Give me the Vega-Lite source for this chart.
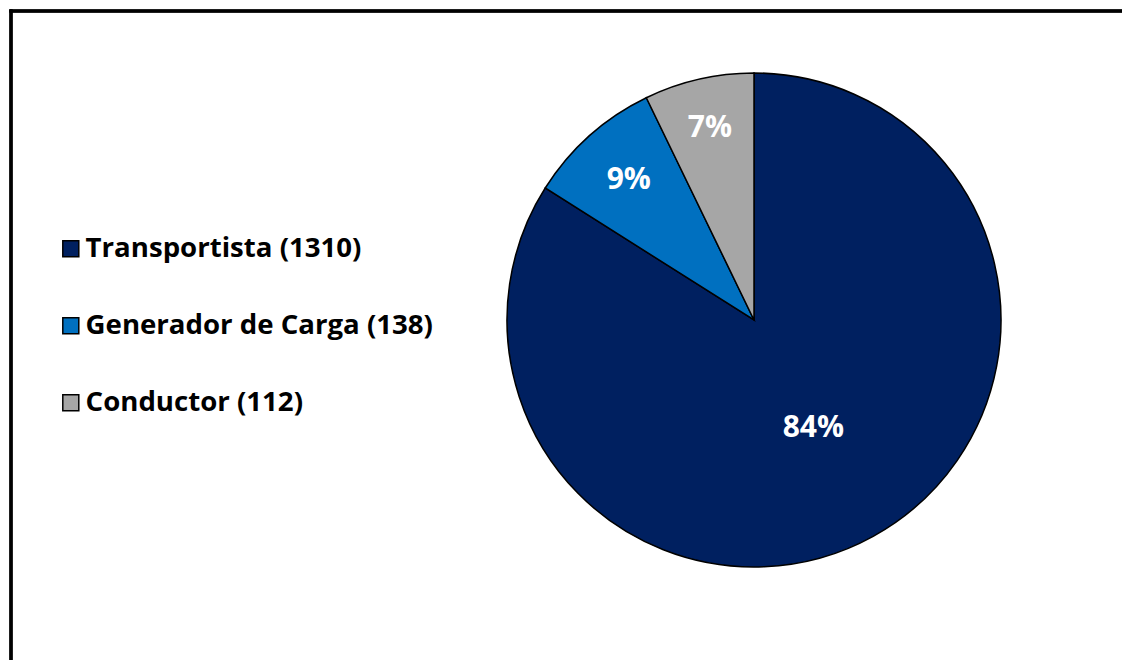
{
  "$schema": "https://vega.github.io/schema/vega-lite/v6.json",
  "autosize": "none",
  "padding": {"left": 11, "top": 11, "right": 0, "bottom": 0},
  "width": 1111,
  "height": 649,
  "background": "white",
  "view": {"stroke": null},
  "config": {
    "font": "Open Sans"
  },
  "data": {
    "values": [
      {"cat": "Transportista (1310)", "count": 1310, "pct": "84%"},
      {"cat": "Generador de Carga (138)", "count": 138, "pct": "9%"},
      {"cat": "Conductor (112)", "count": 112, "pct": "7%"}
    ]
  },
  "layer": [
    {
      "mark": {"type": "rule", "color": "black", "strokeWidth": 3, "strokeCap": "square"},
      "encoding": {"x": {"value": 0}, "y": {"value": 0}, "y2": {"value": "height"}}
    },
    {
      "mark": {"type": "rule", "color": "black", "strokeWidth": 3, "strokeCap": "square"},
      "encoding": {"y": {"value": 0}, "x": {"value": 0}, "x2": {"value": "width"}}
    },
    {
      "mark": {"type": "arc", "x": 743, "y": 309, "outerRadius": 247, "stroke": "black", "strokeWidth": 1.5},
      "encoding": {
        "theta": {"field": "count", "type": "quantitative", "stack": true},
        "order": {"field": "count", "type": "quantitative", "sort": "descending"},
        "color": {
          "field": "cat",
          "type": "nominal",
          "scale": {
            "domain": ["Transportista (1310)", "Generador de Carga (138)", "Conductor (112)"],
            "range": ["#002060", "#0070C0", "#A6A6A6"]
          },
          "legend": {
            "title": null,
            "orient": "none",
            "legendX": 46,
            "legendY": 224,
            "padding": 0,
            "symbolType": "square",
            "symbolSize": 256,
            "symbolStrokeColor": "black",
            "symbolStrokeWidth": 1.5,
            "symbolOpacity": 1,
            "labelFont": "Open Sans",
            "labelFontWeight": "bold",
            "labelFontSize": 27.6,
            "labelColor": "black",
            "labelOffset": 1,
            "labelLimit": 500,
            "rowPadding": 48
          }
        }
      }
    },
    {
      "mark": {"type": "text", "x": 743, "y": 309, "radius": 123, "color": "white", "font": "Open Sans", "fontWeight": "bold", "fontSize": 30, "align": "center", "baseline": "middle"},
      "encoding": {
        "theta": {"field": "count", "type": "quantitative", "stack": true},
        "order": {"field": "count", "type": "quantitative", "sort": "descending"},
        "detail": {"field": "cat", "type": "nominal"},
        "text": {"condition": {"test": "datum.count > 1000", "field": "pct"}, "value": ""}
      }
    },
    {
      "mark": {"type": "text", "x": 743, "y": 309, "radius": 188, "color": "white", "font": "Open Sans", "fontWeight": "bold", "fontSize": 30, "align": "center", "baseline": "middle"},
      "encoding": {
        "theta": {"field": "count", "type": "quantitative", "stack": true},
        "order": {"field": "count", "type": "quantitative", "sort": "descending"},
        "detail": {"field": "cat", "type": "nominal"},
        "text": {"condition": {"test": "datum.count == 138", "field": "pct"}, "value": ""}
      }
    },
    {
      "mark": {"type": "text", "x": 743, "y": 309, "radius": 197, "color": "white", "font": "Open Sans", "fontWeight": "bold", "fontSize": 30, "align": "center", "baseline": "middle"},
      "encoding": {
        "theta": {"field": "count", "type": "quantitative", "stack": true},
        "order": {"field": "count", "type": "quantitative", "sort": "descending"},
        "detail": {"field": "cat", "type": "nominal"},
        "text": {"condition": {"test": "datum.count == 112", "field": "pct"}, "value": ""}
      }
    }
  ]
}
